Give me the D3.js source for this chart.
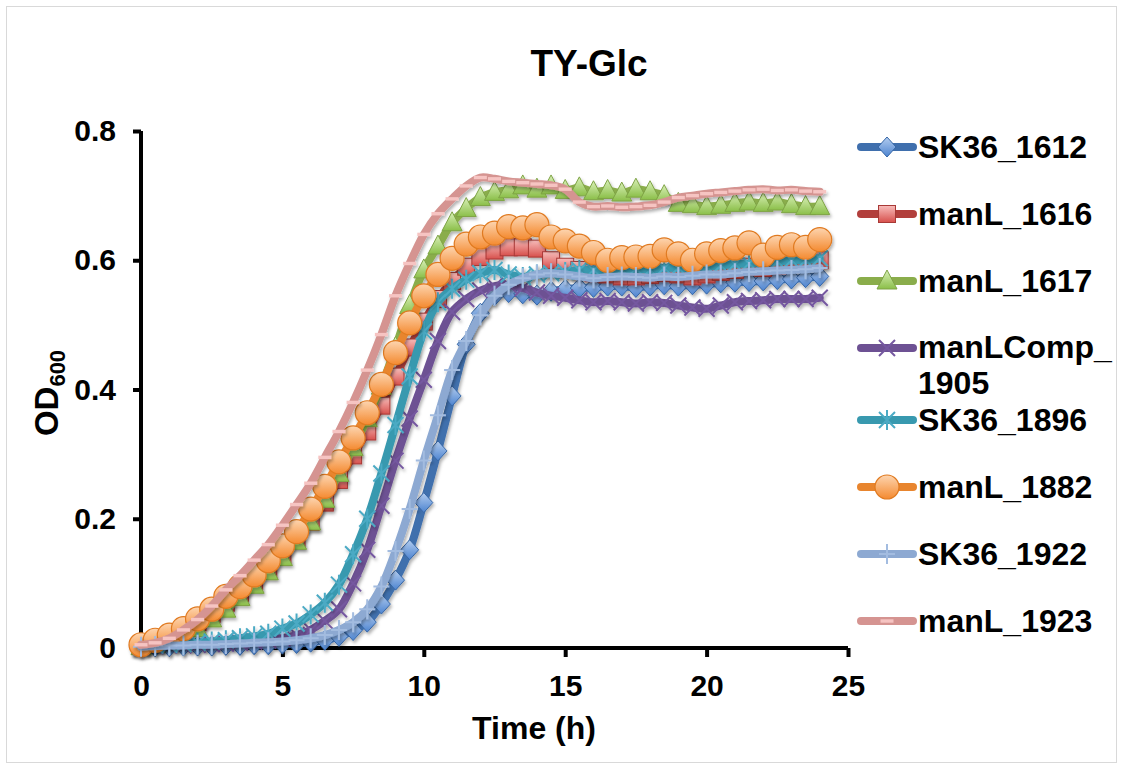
<!DOCTYPE html>
<html>
<head>
<meta charset="utf-8">
<script src="https://cdn.jsdelivr.net/npm/d3@7"></script>
<style>
  body { margin: 0; background: #fff; }
  svg { display: block; font-family: Arial, "Liberation Sans", sans-serif; font-weight: bold; }
</style>
</head>
<body>
<svg id="chart" width="1124" height="770"></svg>
<script>
// time points (h)
const hours = [0, 0.5, 1, 1.5, 2, 2.5, 3, 3.5, 4, 4.5, 5, 5.5, 6, 6.5, 7, 7.5, 8, 8.5, 9, 9.5,
  10, 10.5, 11, 11.5, 12, 12.5, 13, 13.5, 14, 14.5, 15, 15.5, 16, 16.5, 17, 17.5, 18, 18.5, 19, 19.5,
  20, 20.5, 21, 21.5, 22, 22.5, 23, 23.5, 24];

// OD600 per strain
const sk36_1612 = [0.002, 0.002, 0.002, 0.003, 0.003, 0.003, 0.004, 0.004, 0.005, 0.005, 0.006, 0.007, 0.009,
  0.012, 0.018, 0.027, 0.040, 0.068, 0.105, 0.152, 0.225, 0.305, 0.390, 0.470, 0.518,
  0.545, 0.550, 0.548, 0.546, 0.552, 0.555, 0.557, 0.558, 0.560, 0.560, 0.558, 0.560,
  0.562, 0.560, 0.562, 0.563, 0.565, 0.566, 0.567, 0.568, 0.570, 0.571, 0.573, 0.575];
const manL_1616 = [0.003, 0.010, 0.018, 0.028, 0.040, 0.053, 0.070, 0.085, 0.103, 0.122, 0.145, 0.168, 0.195,
  0.225, 0.260, 0.298, 0.335, 0.375, 0.420, 0.465, 0.505, 0.540, 0.568, 0.590, 0.605,
  0.615, 0.620, 0.620, 0.618, 0.600, 0.590, 0.585, 0.580, 0.578, 0.575, 0.575, 0.577,
  0.580, 0.578, 0.575, 0.578, 0.582, 0.585, 0.590, 0.588, 0.592, 0.595, 0.597, 0.600];
const manL_1617 = [0.002, 0.006, 0.012, 0.020, 0.030, 0.045, 0.060, 0.078, 0.097, 0.118, 0.140, 0.165, 0.195,
  0.230, 0.270, 0.310, 0.355, 0.405, 0.465, 0.530, 0.585, 0.622, 0.658, 0.680, 0.697,
  0.705, 0.709, 0.715, 0.710, 0.715, 0.708, 0.712, 0.706, 0.708, 0.704, 0.710, 0.706,
  0.700, 0.688, 0.686, 0.683, 0.685, 0.688, 0.690, 0.688, 0.690, 0.686, 0.683, 0.683];
const manLComp_1905 = [0.002, 0.003, 0.004, 0.004, 0.005, 0.006, 0.007, 0.008, 0.010, 0.012, 0.015, 0.020, 0.028,
  0.042, 0.060, 0.100, 0.152, 0.220, 0.290, 0.355, 0.415, 0.475, 0.520, 0.540, 0.553,
  0.560, 0.562, 0.557, 0.550, 0.545, 0.542, 0.538, 0.535, 0.537, 0.535, 0.533, 0.535,
  0.534, 0.530, 0.527, 0.525, 0.530, 0.535, 0.537, 0.538, 0.540, 0.540, 0.540, 0.542];
const sk36_1896 = [0.003, 0.004, 0.005, 0.006, 0.008, 0.010, 0.012, 0.015, 0.018, 0.022, 0.030, 0.038, 0.052,
  0.070, 0.098, 0.145, 0.200, 0.270, 0.345, 0.420, 0.490, 0.535, 0.556, 0.570, 0.580,
  0.585, 0.578, 0.574, 0.578, 0.580, 0.582, 0.585, 0.585, 0.583, 0.585, 0.587, 0.585,
  0.588, 0.588, 0.587, 0.590, 0.592, 0.594, 0.595, 0.597, 0.598, 0.600, 0.600, 0.603];
const manL_1882 = [0.005, 0.012, 0.020, 0.030, 0.045, 0.060, 0.080, 0.095, 0.113, 0.135, 0.158, 0.180, 0.215,
  0.250, 0.288, 0.325, 0.364, 0.408, 0.457, 0.503, 0.545, 0.578, 0.603, 0.625, 0.636,
  0.642, 0.652, 0.650, 0.655, 0.636, 0.630, 0.622, 0.612, 0.600, 0.604, 0.605, 0.606,
  0.616, 0.610, 0.600, 0.610, 0.615, 0.619, 0.627, 0.608, 0.620, 0.624, 0.620, 0.632];
const sk36_1922 = [0.002, 0.003, 0.004, 0.004, 0.005, 0.005, 0.006, 0.007, 0.008, 0.009, 0.010, 0.012, 0.015,
  0.020, 0.028, 0.040, 0.060, 0.095, 0.150, 0.215, 0.290, 0.360, 0.430, 0.475, 0.515,
  0.545, 0.562, 0.572, 0.578, 0.580, 0.578, 0.575, 0.572, 0.574, 0.575, 0.574, 0.573,
  0.575, 0.574, 0.576, 0.578, 0.578, 0.580, 0.582, 0.583, 0.584, 0.585, 0.586, 0.588];
const manL_1923 = [0.005, 0.008, 0.015, 0.028, 0.044, 0.065, 0.090, 0.112, 0.136, 0.160, 0.190, 0.222, 0.255,
  0.295, 0.335, 0.380, 0.430, 0.485, 0.545, 0.595, 0.640, 0.672, 0.695, 0.715, 0.728,
  0.726, 0.722, 0.720, 0.718, 0.716, 0.710, 0.690, 0.683, 0.684, 0.682, 0.683, 0.685,
  0.690, 0.697, 0.700, 0.703, 0.705, 0.707, 0.709, 0.710, 0.708, 0.709, 0.707, 0.706];

const seriesNames = ["SK36_1612", "manL_1616", "manL_1617", "manLComp_1905",
  "SK36_1896", "manL_1882", "SK36_1922", "manL_1923"];
const seriesValues = [sk36_1612, manL_1616, manL_1617, manLComp_1905,
  sk36_1896, manL_1882, sk36_1922, manL_1923];

const xTicks = [0, 5, 10, 15, 20, 25];
const yTicks = [0, 0.2, 0.4, 0.6, 0.8];

// look of each series (Excel-like)
const styles = [
  { line: "#3F6FAD", top: "#B3CDF0", bot: "#4C83CF", stroke: "#3767A6", shape: "diamond" },
  { line: "#B23F3C", top: "#F8BDBB", bot: "#D7504C", stroke: "#A83936", shape: "square" },
  { line: "#8AAD4B", top: "#D9F0B8", bot: "#8BBF49", stroke: "#7EA345", shape: "triangle" },
  { line: "#6D5193", stroke: "#7558A0", shape: "x" },
  { line: "#3899AF", stroke: "#4BAAC4", shape: "star" },
  { line: "#E8852E", top: "#FDD5B0", bot: "#F48A30", stroke: "#E07A20", shape: "circle" },
  { line: "#8DA9D2", stroke: "#A3BCE0", shape: "plus" },
  { line: "#D59491", top: "#F6C4C2", bot: "#F6C4C2", stroke: "none", shape: "dash" }
];

const svg = d3.select("#chart");
const area = { left: 141, right: 848, top: 131, bottom: 648 };

const defs = svg.append("defs");
defs.append("filter").attr("id", "shadow")
  .attr("x", "-10%").attr("y", "-10%").attr("width", "130%").attr("height", "130%")
  .append("feDropShadow")
  .attr("dx", 1.5).attr("dy", 2.5).attr("stdDeviation", 1.8)
  .attr("flood-color", "#000").attr("flood-opacity", 0.3);

styles.forEach((s, i) => {
  if (!s.top) return;
  const g = defs.append("linearGradient").attr("id", "grad" + i)
    .attr("x1", 0).attr("y1", 0).attr("x2", 0).attr("y2", 1);
  g.append("stop").attr("offset", "0%").attr("stop-color", s.top);
  g.append("stop").attr("offset", "100%").attr("stop-color", s.bot);
});

// chart border
svg.append("rect")
  .attr("x", 6.5).attr("y", 6.5).attr("width", 1110).attr("height", 756)
  .attr("fill", "none").attr("stroke", "#d9d9d9").attr("stroke-width", 1);

const x = d3.scaleLinear().domain([0, 25]).range([area.left, area.right]);
const y = d3.scaleLinear().domain([0, 0.8]).range([area.bottom, area.top]);

// axes
const gx = svg.append("g")
  .attr("transform", `translate(0, ${area.bottom})`)
  .call(d3.axisBottom(x).tickValues(xTicks).tickSize(9).tickSizeOuter(0).tickPadding(18));
const gy = svg.append("g")
  .attr("transform", `translate(${area.left}, 0)`)
  .call(d3.axisLeft(y).tickValues(yTicks).tickSize(8).tickSizeOuter(0).tickPadding(17)
    .tickFormat(d => d === 0 ? "0" : d3.format(".1f")(d)));

[gx, gy].forEach(g => {
  g.select(".domain").attr("stroke", "#000").attr("stroke-width", 4);
  g.selectAll(".tick line").attr("stroke", "#000").attr("stroke-width", 4);
  g.selectAll(".tick text").attr("fill", "#000").style("font-size", "30px")
    .style("font-family", "Arial, 'Liberation Sans', sans-serif").style("font-weight", "bold");
});
gy.select(".domain").attr("d", `M0,${area.top}V${area.bottom + 2}`);
gx.select(".domain").attr("d", `M${area.left - 2},0H${area.right}`);

// marker shapes
function drawMarker(sel, s, i) {
  const fill = s.top ? `url(#grad${i})` : "none";
  switch (s.shape) {
    case "diamond":
      sel.append("path").attr("d", "M0,-10L9,0L0,10L-9,0Z")
        .attr("fill", fill).attr("stroke", s.stroke).attr("stroke-width", 1);
      break;
    case "square":
      sel.append("rect").attr("x", -8.5).attr("y", -8.5).attr("width", 17).attr("height", 17)
        .attr("fill", fill).attr("stroke", s.stroke).attr("stroke-width", 1);
      break;
    case "triangle":
      sel.append("path").attr("d", "M0,-11L10,8L-10,8Z")
        .attr("fill", fill).attr("stroke", s.stroke).attr("stroke-width", 1);
      break;
    case "circle":
      sel.append("circle").attr("r", 12)
        .attr("fill", fill).attr("stroke", s.stroke).attr("stroke-width", 1.2);
      break;
    case "x":
      sel.append("path").attr("d", "M-8,-8L8,8M-8,8L8,-8")
        .attr("fill", "none").attr("stroke", s.stroke).attr("stroke-width", 2);
      break;
    case "star":
      sel.append("path").attr("d", "M-8,-8L8,8M-8,8L8,-8M0,-10V10")
        .attr("fill", "none").attr("stroke", s.stroke).attr("stroke-width", 2);
      break;
    case "plus":
      sel.append("path").attr("d", "M0,-10V10M-8,0H8")
        .attr("fill", "none").attr("stroke", s.stroke).attr("stroke-width", 2);
      break;
    case "dash":
      sel.append("rect").attr("x", -6.5).attr("y", -1.7).attr("width", 13).attr("height", 3.4)
        .attr("fill", fill);
      break;
  }
}

const line = d3.line()
  .x(d => x(d[0]))
  .y(d => y(d[1]))
  .curve(d3.curveCatmullRom.alpha(0.5));

seriesValues.forEach((vals, i) => {
  const s = styles[i];
  const pts = hours.map((h, k) => [h, vals[k]]);
  const g = svg.append("g").attr("filter", "url(#shadow)");
  g.append("path").datum(pts)
    .attr("d", line)
    .attr("fill", "none")
    .attr("stroke", s.line)
    .attr("stroke-width", 8)
    .attr("stroke-linejoin", "round")
    .attr("stroke-linecap", "round");
  g.selectAll(".m")
    .data(pts)
    .enter()
    .append("g")
    .attr("transform", d => `translate(${x(d[0])}, ${y(d[1])})`)
    .each(function () { drawMarker(d3.select(this), s, i); });
});

// title and axis titles
svg.append("text")
  .attr("x", 589).attr("y", 76)
  .attr("text-anchor", "middle")
  .style("font-size", "37px")
  .text("TY-Glc");

svg.append("text")
  .attr("x", 534).attr("y", 739)
  .attr("text-anchor", "middle")
  .style("font-size", "32px")
  .text("Time (h)");

const yl = svg.append("text")
  .attr("transform", "translate(58, 393) rotate(-90)")
  .attr("text-anchor", "middle")
  .style("font-size", "33px");
yl.append("tspan").text("OD");
yl.append("tspan").attr("dy", 7).style("font-size", "22px").text("600");

// legend
const legend = svg.append("g");
seriesNames.forEach((name, i) => {
  const s = styles[i];
  const ly = 147 + i * 67 + (i >= 4 ? 5 : 0);
  const item = legend.append("g").attr("transform", `translate(0, ${ly})`);
  item.append("line")
    .attr("x1", 861).attr("x2", 913).attr("y1", 0).attr("y2", 0)
    .attr("stroke", s.line).attr("stroke-width", 8).attr("stroke-linecap", "round");
  const mk = item.append("g").attr("transform", "translate(887, 0)");
  drawMarker(mk, s, i);
  if (name === "manLComp_1905") {
    item.append("text").attr("x", 918).attr("y", 10).style("font-size", "32px").text("manLComp_");
    item.append("text").attr("x", 918).attr("y", 46).style("font-size", "32px").text("1905");
  } else {
    item.append("text").attr("x", 918).attr("y", 11).style("font-size", "32px").text(name);
  }
});
</script>
</body>
</html>
